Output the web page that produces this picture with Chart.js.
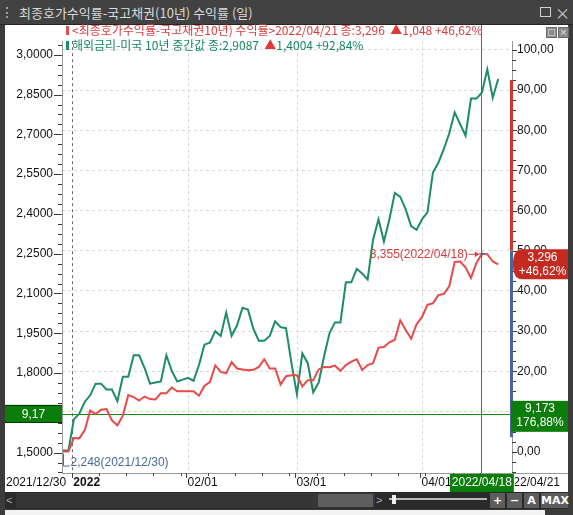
<!DOCTYPE html>
<html>
<head>
<meta charset="utf-8">
<title>최종호가수익률-국고채권(10년) 수익률 (일)</title>
<script src="https://cdn.jsdelivr.net/npm/chart.js@4.4.1/dist/chart.umd.min.js"></script>
<style>
  html, body { margin: 0; padding: 0; }
  body { width: 573px; height: 515px; background: #3b3b3b; position: relative; overflow: hidden;
         font-family: "Noto Sans CJK KR", sans-serif; }
  #title { position: absolute; left: 0; top: 0; width: 573px; height: 24px; background: #424242;
           border-bottom: 1px solid #262626; color: #dadada; font-size: 13px; line-height: 25px; }
  #title .txt { position: absolute; left: 19px; top: 0; white-space: nowrap; }
  #grip { position: absolute; left: 6px; top: 7px; width: 0; height: 11px; border-left: 2px dotted #9c9c9c; }
  #maxBtn { position: absolute; left: 540px; top: 7px; width: 9px; height: 8px; border: 1px solid #d0d0d0; }
  #closeBtn { position: absolute; left: 555px; top: 0; font-size: 15px; color: #d0d0d0; }
  #wrap { position: absolute; left: 5px; top: 25px; width: 563px; height: 467px; background: #fff; }
  .leg { position: absolute; left: 72px; font-size: 12px; line-height: 16px; white-space: nowrap; }
  .mark { position: absolute; left: 66px; width: 3px; height: 9px; }
  .up { color: #dd3b3b; }
  .mini { position: absolute; top: 27px; width: 9px; height: 9px; background: #8a8a8a; border: 1px solid #6a6a6a;
          color: #e8e8e8; font-size: 9px; line-height: 9px; text-align: center; font-family: "DejaVu Sans", sans-serif; }
  #scroll { position: absolute; left: 5px; top: 492px; width: 563px; height: 17px; background: #2a2a2a; }
  #scroll div { position: absolute; }
  .sbtn { top: 1px; height: 15px; background: #5d5d5d; color: #fff; font: bold 11px "DejaVu Sans", sans-serif;
          line-height: 15px; text-align: center; }
  #strip { position: absolute; left: 5px; top: 510px; width: 540px; height: 5px; background: #f4f4f4; }
</style>
</head>
<body>
<div id="title"><div id="grip"></div><span class="txt">최종호가수익률-국고채권(10년) 수익률 (일)</span>
  <div id="maxBtn"></div><div id="closeBtn">×</div></div>
<div id="wrap"><canvas id="myChart" width="563" height="467"></canvas></div>
<div class="mark" style="top:26px;background:#e05050"></div>
<div class="leg" style="top:22px;color:#dd3b3b">&lt;최종호가수익률-국고채권10년) 수익률&gt;2022/04/21 종:3,296 &nbsp;▲1,048 +46,62%</div>
<div class="mark" style="top:41px;background:#1e8c64"></div>
<div class="leg" style="top:37px;color:#17875f">해외금리-미국 10년 중간값 종:2,9087 &nbsp;<span class="up">▲</span>1,4004 +92,84%</div>
<div class="mini" style="left:546px">□</div><div class="mini" style="left:558px">×</div>
<div id="scroll">
  <div style="left:1px;top:1px;width:9px;height:15px;color:#aaa;font:11px sans-serif;line-height:15px">&lt;</div>
  <div style="left:11px;top:1px;width:359px;height:15px;background:#363636"></div>
  <div style="left:313px;top:2px;width:55px;height:13px;background:#5e5e5e"></div>
  <div style="left:371px;top:1px;width:8px;height:15px;color:#aaa;font:11px sans-serif;line-height:15px">&gt;</div>
  <div style="left:384px;top:6px;width:98px;height:2px;background:#bbb"></div>
  <div style="left:387px;top:3px;width:4px;height:9px;background:#eee"></div>
  <div class="sbtn" style="left:485px;width:15px">+</div>
  <div class="sbtn" style="left:502px;width:15px">−</div>
  <div class="sbtn" style="left:519px;width:15px">A</div>
  <div class="sbtn" style="left:536px;width:27px">MAX</div>
</div>
<div id="strip"></div>
<script>
// trading days 2021/12/30 ~ 2022/04/21
var dates = [];
for (var d = new Date(Date.UTC(2021, 11, 30)); d <= Date.UTC(2022, 3, 21); d.setUTCDate(d.getUTCDate() + 1)) {
  var wd = d.getUTCDay();
  if (wd === 0 || wd === 6) continue;
  dates.push(d.toISOString().slice(0, 10).replace(/-/g, '/'));
}

// 해외금리-미국 10년 중간값 (left axis)
var usYield = [
  1.508, 1.508, 1.625, 1.647, 1.691, 1.716, 1.760, 1.760, 1.738, 1.738,
  1.694, 1.786, 1.786, 1.867, 1.867, 1.819, 1.760, 1.764, 1.768, 1.867,
  1.808, 1.768, 1.775, 1.782, 1.771, 1.830, 1.907, 1.914, 1.958, 1.940,
  2.028, 1.940, 1.980, 2.046, 2.039, 1.966, 1.922, 1.922, 1.940, 1.995,
  1.973, 1.969, 1.837, 1.720, 1.874, 1.837, 1.727, 1.764, 1.863, 1.951,
  1.991, 1.991, 2.142, 2.142, 2.193, 2.175, 2.153, 2.303, 2.380, 2.296,
  2.380, 2.479, 2.464, 2.417, 2.354, 2.340, 2.380, 2.406, 2.556, 2.593,
  2.644, 2.703, 2.783, 2.739, 2.695, 2.835, 2.835, 2.857, 2.945, 2.838,
  2.9087
];
// 최종호가수익률-국고채권(10년) (plotted as % change on right axis)
var krYield = [
  2.248, 2.248, 2.324, 2.322, 2.368, 2.477, 2.458, 2.482, 2.486, 2.422,
  2.395, 2.449, 2.564, 2.553, 2.534, 2.556, 2.542, 2.540, 2.575, 2.575,
  2.607, 2.586, 2.586, 2.586, 2.586, 2.561, 2.615, 2.637, 2.730, 2.694,
  2.686, 2.749, 2.713, 2.708, 2.703, 2.706, 2.722, 2.765, 2.713, 2.713,
  2.624, 2.670, 2.675, 2.675, 2.613, 2.648, 2.648, 2.708, 2.722, 2.720,
  2.729, 2.700, 2.732, 2.752, 2.765, 2.705, 2.732, 2.743, 2.830, 2.833,
  2.860, 2.874, 2.983, 2.928, 2.879, 2.961, 3.002, 3.070, 3.078, 3.124,
  3.130, 3.173, 3.309, 3.312, 3.279, 3.220, 3.304, 3.355, 3.353, 3.312,
  3.296
];
var krBase = krYield[0];
var krPct = krYield.map(function (v) { return (v / krBase - 1) * 100; });

var leftLabels = [1.5, 1.65, 1.8, 1.95, 2.1, 2.25, 2.4, 2.55, 2.7, 2.85, 3.0];
var rightLabels = [0, 10, 20, 30, 40, 50, 60, 70, 80, 90, 100];
var levelMark = 9.4;                 // 9,17 line, on right scale
var levelLeftText = '9,17';
var levelRightText = ['9,173', '176,88%'];
var axisBands = [[92.5, 50, '#d2372a'], [50, 3.6, '#4a64a8']];
var crossDate = '2022/04/18';

var leftTicks = [], rightTicks = [];
for (var k = 38; k <= 81; k++) leftTicks.push(+(k * 0.0375).toFixed(4));
for (var k = -2; k <= 40; k++) rightTicks.push(k * 2.5);

var NARROW = '"Liberation Sans Narrow", "Arial Narrow", "Liberation Sans", sans-serif';
function fmt(v, n) { return v.toFixed(n).replace('.', ','); }
function isMajorL(v) { return leftLabels.some(function (m) { return Math.abs(m - v) < 1e-6; }); }
function isMajorR(v) { return rightLabels.indexOf(v) >= 0; }

var crossIdx = dates.indexOf(crossDate);
var monthStarts = [];
for (var i = 1; i < dates.length; i++) {
  if (dates[i].slice(5, 7) !== dates[i - 1].slice(5, 7)) monthStarts.push(i);
}
var yearIdx = monthStarts.shift();   // first day of 2022

function seg(ctx, x1, y1, x2, y2) { ctx.beginPath(); ctx.moveTo(x1, y1); ctx.lineTo(x2, y2); ctx.stroke(); }

var overlay = {
  id: 'overlay',
  beforeDatasetsDraw: function (chart) {
    var ctx = chart.ctx, ca = chart.chartArea, x = chart.scales.x, y1 = chart.scales.y1;
    ctx.save();
    ctx.lineWidth = 1;
    ctx.setLineDash([3, 3]);
    ctx.strokeStyle = '#d6d6d6';
    monthStarts.forEach(function (i) {
      var px = Math.round(x.getPixelForValue(i)) + 0.5;
      seg(ctx, px, ca.top, px, ca.bottom);
    });
    ctx.strokeStyle = '#6a6a6a';
    var yx = Math.round(x.getPixelForValue(yearIdx)) - 1.5;
    seg(ctx, yx, ca.top, yx, ca.bottom);
    ctx.setLineDash([]);
    ctx.strokeStyle = '#148a14';
    var ly = Math.round(y1.getPixelForValue(levelMark)) + 0.5;
    seg(ctx, ca.left, ly, ca.right, ly);
    ctx.restore();
  },
  afterDatasetsDraw: function (chart) {
    var ctx = chart.ctx, ca = chart.chartArea, x = chart.scales.x;
    ctx.save();
    ctx.fillStyle = '#0ea00e';
    ctx.fillRect(Math.round(x.getPixelForValue(crossIdx)) - 1, 0, 1, ca.bottom);
    ctx.restore();
  },
  afterDraw: function (chart) {
    var ctx = chart.ctx, ca = chart.chartArea, sc = chart.scales;
    var x = sc.x, y = sc.y, y1 = sc.y1, W = chart.width;
    ctx.save();
    ctx.lineWidth = 1;
    ctx.strokeStyle = '#3a3a3a';
    // tick marks
    y.ticks.forEach(function (t) {
      var py = Math.round(y.getPixelForValue(t.value)) + 0.5;
      seg(ctx, ca.left - (isMajorL(t.value) ? 8 : 4), py, ca.left, py);
    });
    y1.ticks.forEach(function (t) {
      var py = Math.round(y1.getPixelForValue(t.value)) + 0.5;
      seg(ctx, ca.right, py, ca.right + (isMajorR(t.value) ? 5 : 4), py);
    });
    // coloured bands on the right axis
    axisBands.forEach(function (b) {
      var a = y1.getPixelForValue(b[0]), c = y1.getPixelForValue(b[1]);
      ctx.fillStyle = b[2];
      ctx.fillRect(ca.right - 2, a, 3, c - a);
    });
    // x axis line and label row
    ctx.strokeStyle = '#9a9a9a';
    seg(ctx, ca.left, ca.bottom + 0.5, W, ca.bottom + 0.5);
    ctx.strokeStyle = '#444';
    dates.forEach(function (s, i) {
      var dd = new Date(s.replace(/\//g, '-') + 'T00:00:00Z');
      var ms = monthStarts.indexOf(i) >= 0 || i === yearIdx;
      if (dd.getUTCDay() === 1 || ms) {
        var px = Math.round(x.getPixelForValue(i)) - 1.5;
        seg(ctx, px, ca.bottom, px, ca.bottom + (ms ? 5 : 3));
      }
    });
    var ty = ca.bottom + 10;
    ctx.textBaseline = 'middle';
    ctx.fillStyle = '#111';
    ctx.font = '12px ' + NARROW;
    ctx.textAlign = 'left';
    ctx.fillText(dates[0], 1, ty);
    monthStarts.forEach(function (i) {
      ctx.fillText(dates[i].slice(5), x.getPixelForValue(i) - 0.5, ty);
    });
    ctx.font = 'bold 12px ' + NARROW;
    ctx.fillText(dates[yearIdx].slice(0, 4), x.getPixelForValue(yearIdx) - 0.5, ty);
    var cx = x.getPixelForValue(crossIdx);
    ctx.fillStyle = '#0b7d0b';
    ctx.fillRect(cx - 32, ca.bottom + 1, 64, 18);
    ctx.fillStyle = '#fff';
    ctx.font = '12px ' + NARROW;
    ctx.textAlign = 'center';
    ctx.fillText(crossDate, cx, ty);
    ctx.save();
    ctx.beginPath();
    ctx.rect(cx + 33, ca.bottom + 1, W - cx - 33, 18);
    ctx.clip();
    ctx.fillStyle = '#111';
    ctx.textAlign = 'right';
    ctx.fillText(dates[dates.length - 1], W - 8, ty);
    ctx.restore();
    // level boxes
    var ly = y1.getPixelForValue(levelMark);
    ctx.fillStyle = '#0b7d0b';
    ctx.strokeStyle = '#063806';
    ctx.fillRect(0, ly - 9, ca.left, 18);
    seg(ctx, 0, Math.round(ly - 9) + 0.5, ca.left, Math.round(ly - 9) + 0.5);
    seg(ctx, 0, Math.round(ly + 9) - 0.5, ca.left, Math.round(ly + 9) - 0.5);
    ctx.fillStyle = '#0b7d0b';
    ctx.fillRect(ca.right - 1, ly - 13, W - ca.right + 1, 31);
    ctx.fillStyle = '#fff';
    ctx.font = '12px ' + NARROW;
    ctx.textAlign = 'center';
    ctx.fillText(levelLeftText, ca.left / 2, ly + 1);
    ctx.fillText(levelRightText[0], (ca.right + W) / 2, ly - 5);
    ctx.fillText(levelRightText[1], (ca.right + W) / 2, ly + 9);
    // last value box (red)
    var last = krPct.length - 1;
    var ry = y1.getPixelForValue(krPct[last]);
    var bx = ca.right + 1;
    ctx.fillStyle = '#c42a1f';
    ctx.beginPath();
    ctx.moveTo(bx + 9, ry - 15);
    ctx.lineTo(W, ry - 15);
    ctx.lineTo(W, ry + 15);
    ctx.lineTo(bx + 9, ry + 15);
    ctx.quadraticCurveTo(bx, ry + 15, bx, ry);
    ctx.quadraticCurveTo(bx, ry - 15, bx + 9, ry - 15);
    ctx.fill();
    ctx.fillStyle = '#fff';
    ctx.fillText(fmt(krYield[last], 3), (bx + W) / 2 + 2, ry - 7);
    ctx.fillText('+' + fmt(krPct[last], 2) + '%', (bx + W) / 2 + 2, ry + 7);
    // marker at crosshair date (red series)
    var mx = x.getPixelForValue(crossIdx), my = y1.getPixelForValue(krPct[crossIdx]);
    ctx.strokeStyle = '#4a64a8';
    seg(ctx, mx - 3, my, mx + 3, my);
    seg(ctx, mx, my - 3, mx, my + 3);
    ctx.strokeStyle = '#d43c3c';
    seg(ctx, mx - 13, my + 0.5, mx - 3, my + 0.5);
    ctx.fillStyle = '#d43c3c';
    ctx.beginPath(); ctx.moveTo(mx - 3, my + 0.5); ctx.lineTo(mx - 7, my - 2.5); ctx.lineTo(mx - 7, my + 3.5); ctx.fill();
    ctx.textAlign = 'right';
    ctx.fillText(fmt(krYield[crossIdx], 3) + '(' + crossDate + ')', mx - 14, my + 1);
    // base label at first point
    var sx = Math.round(x.getPixelForValue(0)) + 0.5, sy = y1.getPixelForValue(0);
    ctx.strokeStyle = '#4a6a9a';
    ctx.beginPath(); ctx.moveTo(sx, sy + 2); ctx.lineTo(sx, sy + 14.5); ctx.lineTo(sx + 6, sy + 14.5); ctx.stroke();
    ctx.fillStyle = '#4a6a9a';
    ctx.textAlign = 'left';
    ctx.fillText(fmt(krBase, 3) + '(' + dates[0] + ')', sx + 7, sy + 11);
    ctx.restore();
  }
};

var myChart = new Chart(document.getElementById('myChart'), {
  type: 'line',
  data: {
    datasets: [
      {
        label: '최종호가수익률-국고채권(10년)',
        data: krPct.map(function (v, i) { return { x: i, y: v }; }),
        yAxisID: 'y1',
        borderColor: '#e84a4a',
        borderWidth: 2,
        pointRadius: 0,
        tension: 0
      },
      {
        label: '해외금리-미국 10년 중간값',
        data: usYield.map(function (v, i) { return { x: i, y: v }; }),
        yAxisID: 'y',
        borderColor: '#1e8c64',
        borderWidth: 2,
        pointRadius: 0,
        tension: 0
      }
    ]
  },
  options: {
    responsive: false,
    animation: false,
    devicePixelRatio: 1,
    events: [],
    layout: { padding: { top: 4, bottom: 19, left: 0, right: 0 } },
    plugins: { legend: { display: false }, tooltip: { enabled: false } },
    scales: {
      x: { type: 'linear', display: false, min: -0.18, max: 82.54 },
      y: {
        position: 'left', min: 1.423, max: 3.0513,
        afterFit: function (s) { s.width = 57; },
        afterBuildTicks: function (s) { s.ticks = leftTicks.map(function (v) { return { value: v }; }); },
        grid: { drawOnChartArea: false, drawTicks: false },
        border: { color: '#9a9a9a' },
        ticks: {
          padding: 9, color: '#111', font: { family: NARROW, size: 12 }, autoSkip: false,
          callback: function (v) { return isMajorL(v) ? fmt(v, 4) : ''; }
        }
      },
      y1: {
        position: 'right', min: -5.33, max: 102.18,
        afterFit: function (s) { s.width = 56; },
        afterBuildTicks: function (s) { s.ticks = rightTicks.map(function (v) { return { value: v }; }); },
        grid: {
          drawTicks: false,
          color: function (c) { return c.tick && isMajorR(c.tick.value) && c.tick.value >= 10 ? '#d8d8d8' : 'rgba(0,0,0,0)'; }
        },
        border: { color: '#9a9a9a', dash: [3, 3] },
        ticks: {
          padding: 5, color: '#111', font: { family: NARROW, size: 12 }, autoSkip: false,
          callback: function (v) { return isMajorR(v) ? fmt(v, 2) : ''; }
        }
      }
    }
  },
  plugins: [overlay]
});
</script>
</body>
</html>
